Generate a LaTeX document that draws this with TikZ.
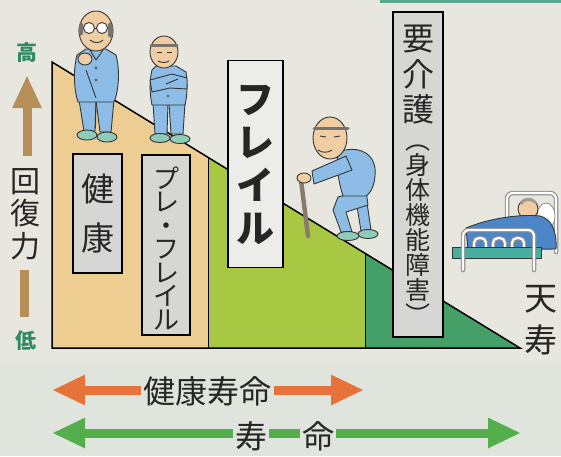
\documentclass[tikz,border=0pt]{standalone}
\usepackage{fontspec}
\newfontfamily\jp{Noto Sans CJK JP}
\usetikzlibrary{arrows.meta,calc}
\definecolor{paper}{HTML}{E8E7DF}
\definecolor{paperlow}{HTML}{DFE5DD}
\definecolor{topband}{HTML}{5BA890}
\definecolor{tanfill}{HTML}{EDCD92}
\definecolor{lgreen}{HTML}{A8C843}
\definecolor{dgreen}{HTML}{44A066}
\definecolor{boxgray}{HTML}{D6D6D4}
\definecolor{boxlight}{HTML}{ECECEA}
\definecolor{axisgreen}{HTML}{2F8A62}
\definecolor{axistan}{HTML}{B68E58}
\definecolor{orangearr}{HTML}{E8733A}
\definecolor{greenarr}{HTML}{55AE4C}
\definecolor{skin}{HTML}{F0CDA2}
\definecolor{cloth}{HTML}{8DBDE6}
\definecolor{shoe}{HTML}{8FCBB8}
\definecolor{hairgray}{HTML}{77736E}
\definecolor{inkline}{HTML}{353535}
\definecolor{canecol}{HTML}{8A7B6C}
\definecolor{blanket}{HTML}{4A86C8}
\definecolor{mattress}{HTML}{45B0A0}
\definecolor{framegray}{HTML}{8E8E8E}
\begin{document}
\begin{tikzpicture}[x=1pt,y=-1pt,
  labelbox/.style={draw=black, line width=1.2pt, fill=boxgray, inner sep=0pt},
  vtext/.style={align=center, inner sep=0pt, text=black!85},
  part/.style={draw=inkline, line width=0.9pt, line join=round},
  clothpart/.style={part, fill=cloth},
  skinpart/.style={part, fill=skin},
  shoepart/.style={part, fill=shoe},
  tube/.style={line width=4.5pt, draw=framegray, line cap=round, rounded corners=6pt},
  tubein/.style={line width=2.2pt, draw=white, line cap=round, rounded corners=6pt},
  bigarrow/.style={line width=9pt, -{Triangle[length=33pt,width=28pt]}},
  greenline/.style={line width=9pt, draw=greenarr}
]
\useasboundingbox (0,0) rectangle (561,456);
% paper
\fill[paper] (0,0) rectangle (561,456);
\fill[paperlow] (0,362) rectangle (561,456);
\fill[topband] (380,0) rectangle (561,3);

% ---- staircase of decline ----
\coordinate (top) at (52,62);
\coordinate (tip) at (520,348);
\coordinate (base) at (52,348);
\coordinate (d1t) at (208,157.5);
\coordinate (d1b) at (208,348);
\coordinate (d2t) at (365,253.6);
\coordinate (d2b) at (365,348);
\fill[tanfill] (base) -- (top) -- (d1t) -- (d1b) -- cycle;
\fill[lgreen] (d1b) -- (d1t) -- (d2t) -- (d2b) -- cycle;
\fill[dgreen] (d2b) -- (d2t) -- (tip) -- cycle;
\draw[line width=1pt] (d1t) -- (d1b) (d2t) -- (d2b);
\draw[line width=1.5pt, line join=miter] (base) -- (top) -- (tip) -- cycle;

% ---- stage labels ----
\node[labelbox, minimum width=49pt, minimum height=119pt] (kenkobox) at (97.5,213.5) {};
\node[vtext, font=\jp\fontsize{33}{49}\selectfont] (kenko) at (kenkobox.center) {健\\康};

\node[labelbox, minimum width=48pt, minimum height=180pt] (prebox) at (166,245) {};
\node[vtext, font=\jp\fontsize{26}{23.5}\selectfont] (pre) at ($(prebox.center)+(0,3)$) {プ\\レ\\・\\フ\\レ\\イ\\ル};

\node[labelbox, fill=boxlight, minimum width=55pt, minimum height=207pt] (frailbox) at (255.5,164) {};
\node[vtext, font=\jp\bfseries\fontsize{38}{43}\selectfont] (frail) at ($(frailbox.center)+(0,1)$) {フ\\レ\\イ\\ル};

\node[labelbox, minimum width=50pt, minimum height=325pt] (kaigobox) at (418,174.5) {};
\node[vtext, font=\jp\fontsize{32}{35.5}\selectfont] (kaigo) at (418,75) {要\\介\\護};
\node[vtext, font=\jp\fontsize{25}{25}\selectfont] (shintai) at (418,235) {︵\\身\\体\\機\\能\\障\\害\\︶};

% ---- recovery axis ----
\node[font=\jp\bfseries\fontsize{21}{21}\selectfont, text=axisgreen, inner sep=0pt] (high) at (27,53) {高};
\node[vtext, font=\jp\fontsize{30}{32.5}\selectfont] (power) at (25,214) {回\\復\\力};
\node[font=\jp\bfseries\fontsize{21}{21}\selectfont, text=axisgreen, inner sep=0pt] (low) at (26,341) {低};
\coordinate (upend) at (27,75);
\coordinate (upstart) at (27,156);
\draw[bigarrow, draw=axistan, fill=axistan, -{Triangle[length=33pt,width=27pt]}] (upstart) -- (upend);
\coordinate (barA) at (24,270);
\coordinate (barB) at (24,317);
\draw[line width=9pt, draw=axistan] (barA) -- (barB);

% ---- right end ----
\node[vtext, font=\jp\fontsize{33}{42}\selectfont] (tenju) at (541,320) {天\\寿};

% ---- lifespan arrows ----
\node[font=\jp\fontsize{32}{32}\selectfont, inner sep=2pt, text=black!85] (healthy) at (207.5,391) {健康寿命};
\coordinate (hL) at (52,390);
\coordinate (hR) at (364,390);
\draw[bigarrow, draw=orangearr, fill=orangearr] ($(healthy.west)+(0,-1)$) -- (hL);
\draw[bigarrow, draw=orangearr, fill=orangearr] ($(healthy.east)+(0,-1)$) -- (hR);

\node[font=\jp\fontsize{32}{32}\selectfont, inner sep=2pt, text=black!85] (ju) at (251,436) {寿};
\node[font=\jp\fontsize{32}{32}\selectfont, inner sep=2pt, text=black!85] (mei) at (318,436) {命};
\coordinate (lL) at (52,433);
\coordinate (lR) at (521,433);
\draw[bigarrow, draw=greenarr, fill=greenarr] ($(ju.west)+(0,-3)$) -- (lL);
\draw[greenline] ($(ju.east)+(0,-3)$) -- ($(mei.west)+(0,-3)$);
\draw[bigarrow, draw=greenarr, fill=greenarr] ($(mei.east)+(0,-3)$) -- (lR);

% ---- healthy man with glasses ----
\filldraw[clothpart] (79,100) -- (96,100) -- (95,131) -- (84,131) -- cycle;
\filldraw[clothpart] (96,100) -- (114,100) -- (111,132) -- (100,132) -- cycle;
\draw[inkline, line width=0.8pt] (96,104) -- (95.5,128);
\filldraw[shoepart] (87,135) ellipse [x radius=10pt, y radius=5pt];
\filldraw[shoepart] (107,137) ellipse [x radius=10pt, y radius=5pt];
\filldraw[clothpart] (86,49) -- (106,49) -- (116,55)
  .. controls (120,70) and (119,90) .. (114,102) -- (78,102)
  .. controls (74,90) and (73,70) .. (77,55) -- cycle;
\draw[part] (90,50) -- (96,60) -- (103,50);
\fill[inkline!80] (96,68) circle (1.6pt) (96,80) circle (1.6pt);
\draw[part] (86,70) -- (96,98);
\filldraw[skinpart] (85,59) ellipse [x radius=7pt, y radius=6pt];
\filldraw[skinpart] (96,31) ellipse [x radius=17pt, y radius=20pt];
\fill[hairgray] (110,22) .. controls (114,26) and (114,34) .. (111,38) -- (108,36) -- (108,24) -- cycle;
\fill[hairgray] (81,22) .. controls (78,26) and (78,32) .. (80,36) -- (83,34) -- (83,24) -- cycle;
\draw[part, fill=white] (89,28) circle (5.5pt) (102,28) circle (5.5pt);
\draw[part] (94.5,28) -- (96.5,28);
\draw[part] (90,40) .. controls (95,44) and (100,43) .. (103,40);

% ---- pre-frail man, arms folded ----
\filldraw[clothpart] (153,103) -- (168,103) -- (167,134) -- (155,134) -- cycle;
\filldraw[clothpart] (169,103) -- (185,103) -- (183,134) -- (171,134) -- cycle;
\filldraw[shoepart] (160,138) ellipse [x radius=10pt, y radius=4.5pt];
\filldraw[shoepart] (180,139) ellipse [x radius=10pt, y radius=4.5pt];
\filldraw[clothpart] (156,66) -- (176,66) -- (186,72)
  .. controls (188,85) and (187,96) .. (185,105) -- (152,105)
  .. controls (150,96) and (149,82) .. (152,70) -- cycle;
\filldraw[clothpart] (150,80) -- (172,74) -- (187,78) -- (187,89) -- (170,88) -- (152,92) -- cycle;
\draw[part] (166,84) -- (178,79);
\fill[inkline!80] (168,96) circle (1.4pt);
\filldraw[skinpart] (164,52) ellipse [x radius=14pt, y radius=16pt];
\draw[hairgray, line width=3pt, line cap=round] (151,45) -- (177,45);
\draw[part] (157,52) -- (162,52) (167,52) -- (172,52);
\draw[part] (158,61) .. controls (162,63) and (166,63) .. (169,61);

% ---- frail man with cane ----
\draw[canecol, line width=4.5pt, line cap=round] (301,180) -- (308,236);
\filldraw[clothpart] (366,196) -- (371,230) -- (361,231) -- (356,200) -- cycle;
\filldraw[shoepart] (368,234) ellipse [x radius=10pt, y radius=4.5pt];
\filldraw[clothpart] (366,190) -- (338,197) -- (333,210) -- (341,232) -- (352,232) -- (346,212) -- (368,205) -- cycle;
\filldraw[shoepart] (348,236) ellipse [x radius=11pt, y radius=4.5pt];
\filldraw[clothpart] (338,152) .. controls (355,146) and (372,150) .. (375,168)
  .. controls (376,182) and (372,192) .. (366,196) -- (343,196)
  .. controls (338,180) and (336,165) .. (338,152) -- cycle;
\filldraw[clothpart] (346,156) -- (312,171) -- (314,184) -- (352,170) -- cycle;
\filldraw[skinpart] (304,178) ellipse [x radius=7pt, y radius=5pt];
\filldraw[skinpart] (330,138) ellipse [x radius=17pt, y radius=21pt];
\draw[hairgray, line width=3pt, line cap=round] (314,128) -- (348,128);
\draw[part] (320,136) -- (326,137) (334,137) -- (340,136);
\draw[part] (318,150) .. controls (322,153) and (328,153) .. (332,150);

% ---- bedridden ----
\draw[tube] (507,252) -- (507,193) -- (556,193) -- (556,252);
\draw[tubein] (507,252) -- (507,193) -- (556,193) -- (556,252);
\filldraw[draw=framegray, fill=white, line width=0.8pt] (546,216) ellipse [x radius=9pt, y radius=13pt];
\filldraw[skinpart] (528,209) circle (10pt);
\fill[hairgray!70] (520,202) .. controls (524,196) and (534,196) .. (538,204) -- (534,203) .. controls (530,200) and (524,200) .. (522,205) -- cycle;
\filldraw[part, fill=blanket] (466,228) .. controls (490,218) and (520,214) .. (540,216)
  .. controls (552,219) and (557,232) .. (556,249) -- (468,250) -- cycle;
\draw[tube, rounded corners=5pt] (474,252) -- (474,238) -- (486,238) -- (486,252);
\draw[tubein, rounded corners=5pt] (474,252) -- (474,238) -- (486,238) -- (486,252);
\draw[tube, rounded corners=5pt] (493,252) -- (493,238) -- (505,238) -- (505,252);
\draw[tubein, rounded corners=5pt] (493,252) -- (493,238) -- (505,238) -- (505,252);
\draw[tube, rounded corners=5pt] (512,252) -- (512,238) -- (524,238) -- (524,252);
\draw[tubein, rounded corners=5pt] (512,252) -- (512,238) -- (524,238) -- (524,252);
\filldraw[part, fill=mattress] (452,247) rectangle (541,258);
\draw[tube] (463,270) -- (463,230) -- (534,230) -- (534,270);
\draw[tubein] (463,270) -- (463,230) -- (534,230) -- (534,270);
\end{tikzpicture}
\end{document}
